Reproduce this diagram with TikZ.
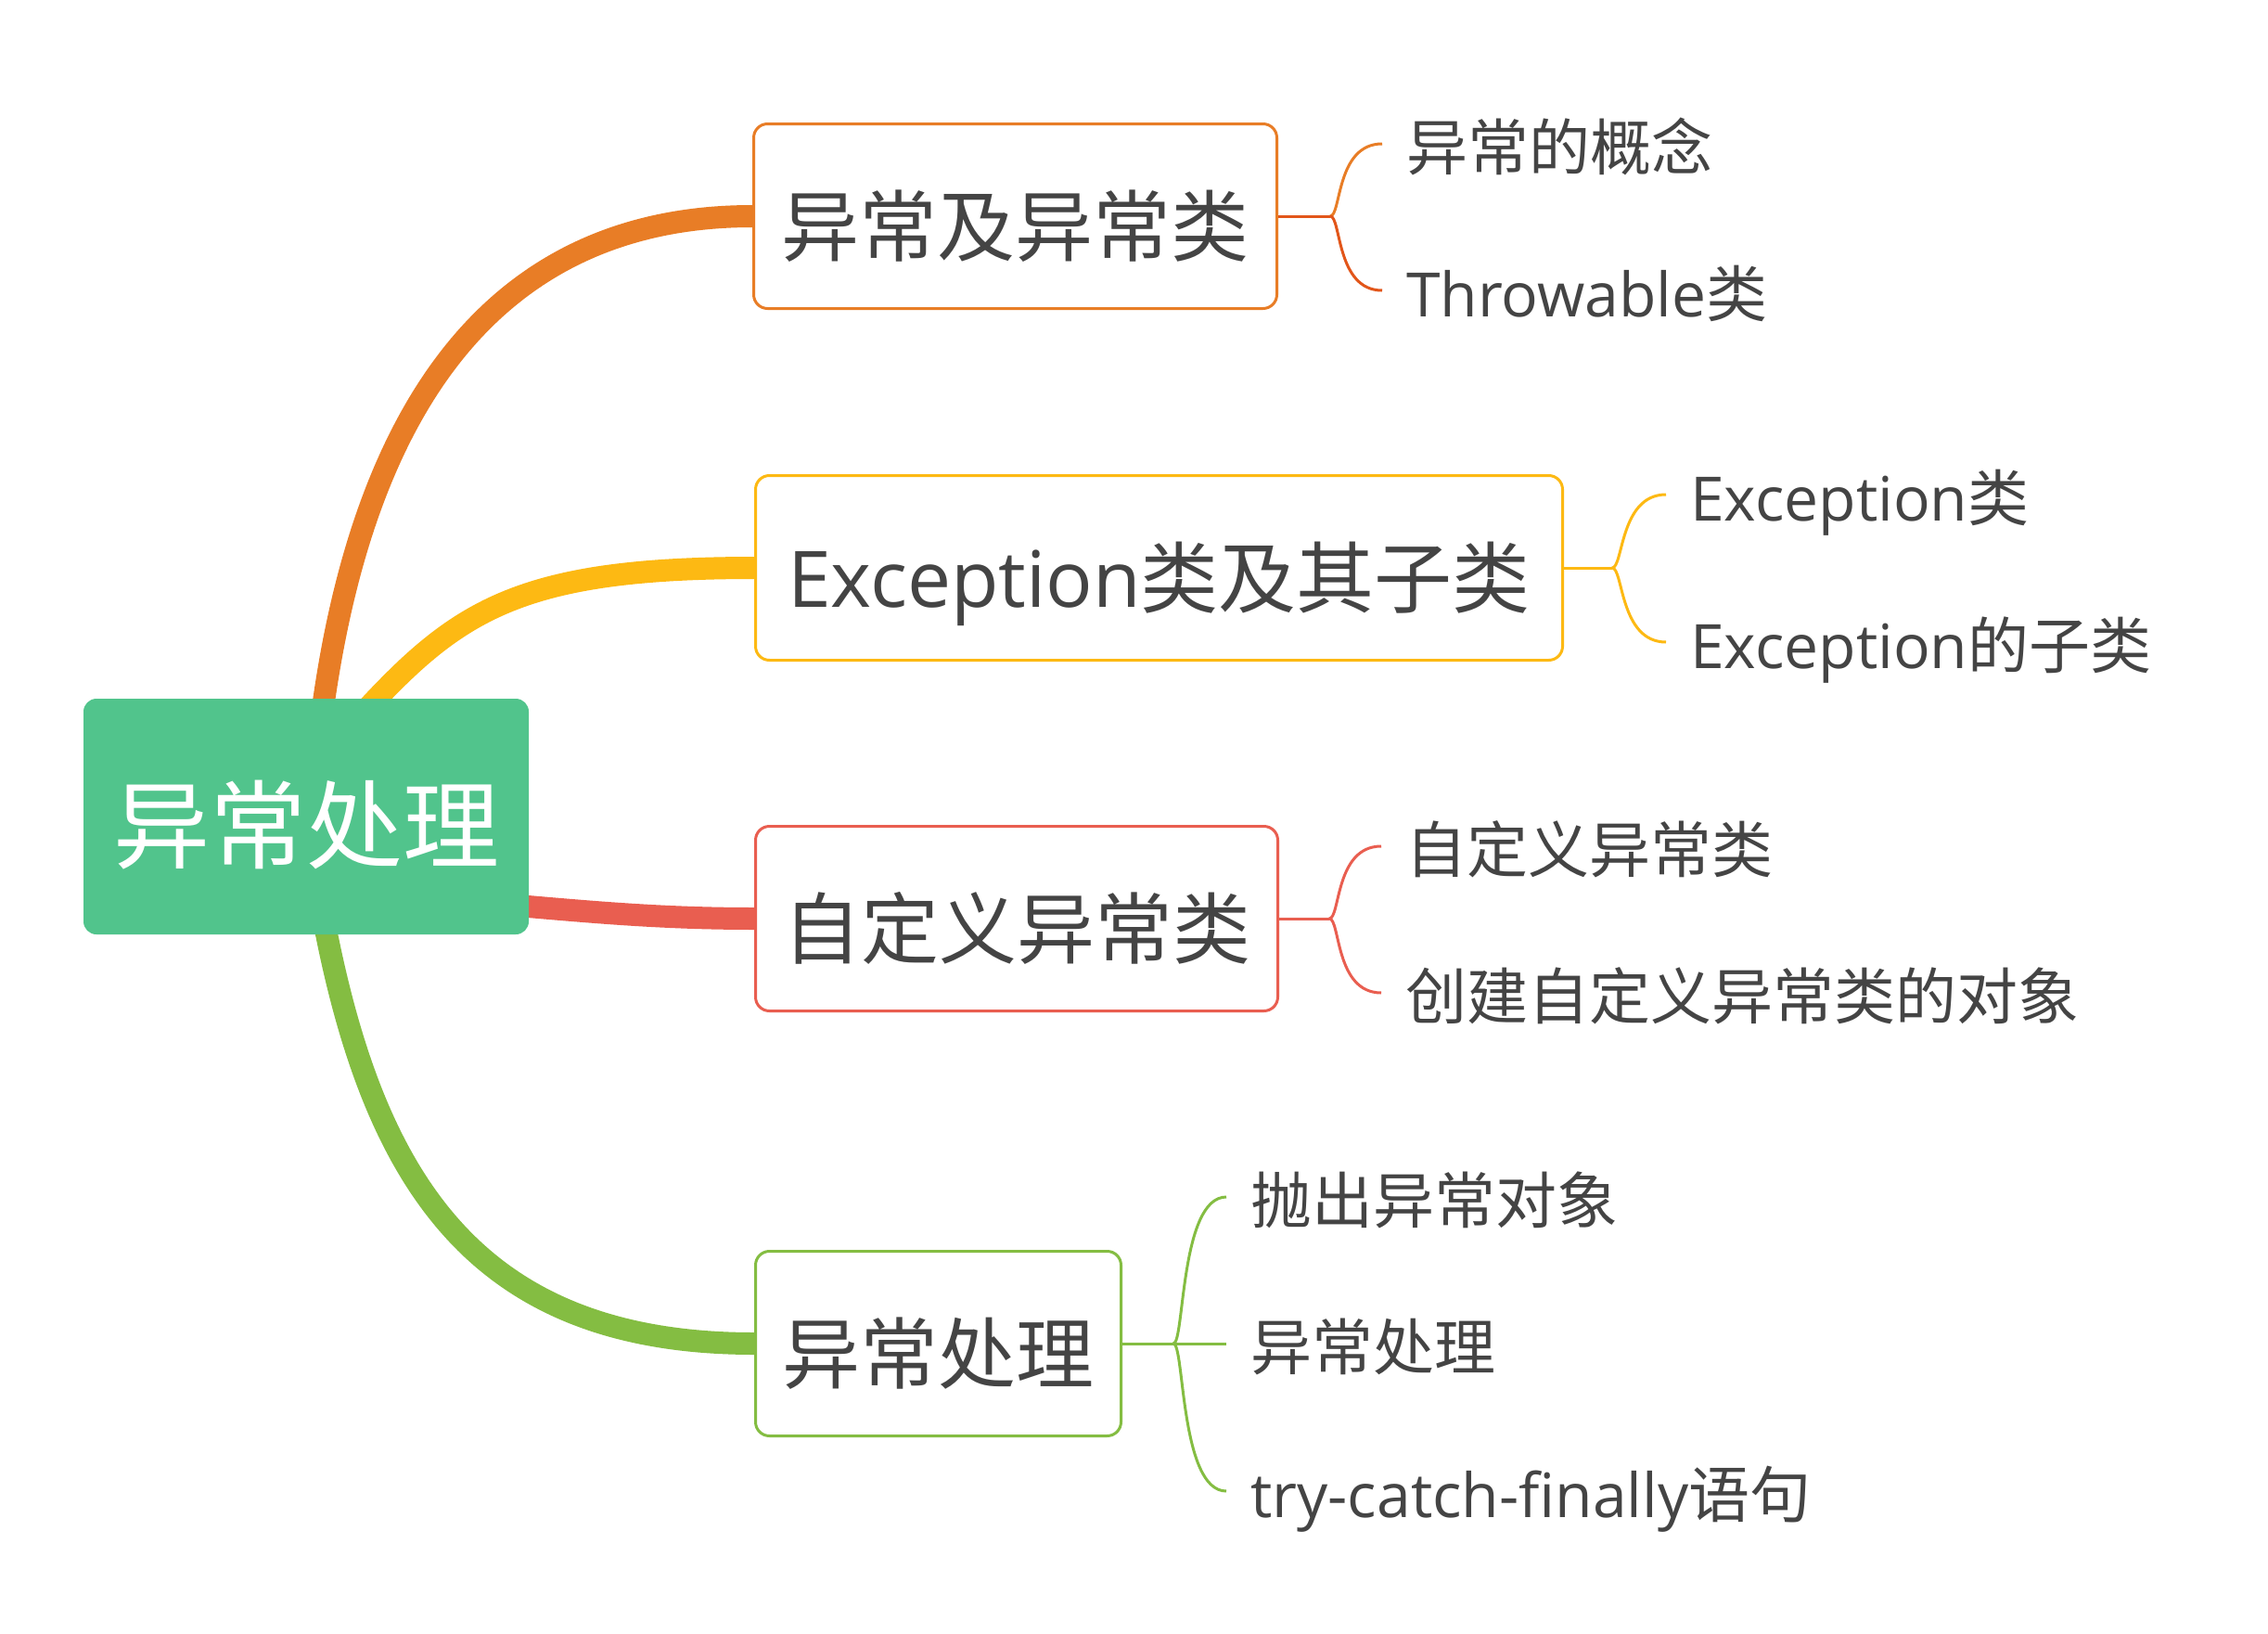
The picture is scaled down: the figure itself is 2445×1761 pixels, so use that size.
\documentclass[tikz,border=0pt]{standalone}
\usepackage{fontspec}
\setmainfont{Open Sans}
\newfontfamily\cjk{Noto Sans CJK SC}
\usetikzlibrary{calc,backgrounds}
\pgfdeclarelayer{paper}
\pgfsetlayers{paper,background,main}
\definecolor{cOrange}{HTML}{E87D26}
\definecolor{cOrangeD}{HTML}{E2561A}
\definecolor{cYellow}{HTML}{FDB913}
\definecolor{cRed}{HTML}{E95E50}
\definecolor{cGreen}{HTML}{84BD42}
\definecolor{cRoot}{HTML}{51C48C}
\definecolor{cText}{HTML}{444444}
\tikzset{
  rootbox/.style={fill=cRoot, rounded corners=14pt, text=white, inner sep=0pt,
    minimum width=480pt, minimum height=254pt,
    font=\fontsize{104}{110}\selectfont\cjk, text height=97pt, text depth=0pt},
  topic/.style={draw, line width=3pt, rounded corners=15pt, text=cText, inner sep=0pt,
    minimum height=199pt, font=\fontsize{84}{90}\selectfont, text height=85pt, text depth=0pt},
  leaf/.style={anchor=west, inner xsep=26pt, inner ysep=0pt, text=cText,
    font=\fontsize{66}{70}\selectfont, text height=57pt, text depth=0pt},
  branch/.style={line width=24pt},
  twig/.style={line width=3pt},
}
\begin{document}
\begin{tikzpicture}[x=1pt,y=-1pt]
\begin{pgfonlayer}{paper}
\fill[white] (0,0) rectangle (2445,1761);
\end{pgfonlayer}
\useasboundingbox (0,0) rectangle (2445,1761);

% root
\node[rootbox] (root) at (330,880) {异常处理};

% topics
\node[topic, draw=cOrange, minimum width=564pt] (t1) at (1094.5,233) {\cjk 异常及异常类};
\node[topic, draw=cYellow, minimum width=870pt] (t2) at (1249.5,612) {Exception{\cjk 类及其子类}};
\node[topic, draw=cRed, minimum width=563pt] (t3) at (1096,990) {\cjk 自定义异常类};
\node[topic, draw=cGreen, minimum width=394pt] (t4) at (1011.5,1448) {\cjk 异常处理};

% branches
\begin{pgfonlayer}{background}
\draw[branch, cOrange] ($(root.north west)+(258,12)$) .. controls (390,457) and (521,233) .. (t1.west);
\draw[branch, cYellow] ($(root.north west)+(305,12)$) .. controls (495,657) and (563,612) .. (t2.west);
\draw[branch, cRed] ($(root.south east)+(-10,-31)$) .. controls (650,984) and (720,990) .. (t3.west);
\draw[branch, cGreen] ($(root.south west)+(260,-12)$) .. controls (405,1280) and (518,1448) .. (t4.west);
\end{pgfonlayer}

% junctions
\coordinate (j1) at (1434,233);
\coordinate (j2) at (1738,612);
\coordinate (j3) at (1433,990);
\coordinate (j4) at (1265,1448);

% leaves
\node[leaf] (l11) at (1490,155) {\cjk 异常的概念};
\node[leaf] (l12) at (1490,313) {Throwable{\cjk 类}};
\node[leaf] (l21) at (1796,533) {Exception{\cjk 类}};
\node[leaf] (l22) at (1796,692) {Exception{\cjk 的子类}};
\node[leaf] (l31) at (1489,912) {\cjk 自定义异常类};
\node[leaf] (l32) at (1489,1070) {\cjk 创建自定义异常类的对象};
\node[leaf] (l41) at (1322,1290) {\cjk 抛出异常对象};
\node[leaf] (l42) at (1322,1448) {\cjk 异常处理};
\node[leaf] (l43) at (1322,1607) {try-catch-finally{\cjk 语句}};

% brackets
\draw[twig, cOrangeD] (t1.east) -- (j1);
\draw[twig, cOrange] (j1) .. controls +(12,0) and +(-50,0) .. (l11.west);
\draw[twig, cOrangeD] (j1) .. controls +(12,0) and +(-50,0) .. (l12.west);

\draw[twig, cYellow] (t2.east) -- (j2);
\draw[twig, cYellow] (j2) .. controls +(12,0) and +(-50,0) .. (l21.west);
\draw[twig, cYellow] (j2) .. controls +(12,0) and +(-50,0) .. (l22.west);

\draw[twig, cRed] (t3.east) -- (j3);
\draw[twig, cRed] (j3) .. controls +(12,0) and +(-50,0) .. (l31.west);
\draw[twig, cRed] (j3) .. controls +(12,0) and +(-50,0) .. (l32.west);

\draw[twig, cGreen] (t4.east) -- (j4);
\draw[twig, cGreen] (j4) .. controls +(12,0) and +(-50,0) .. (l41.west);
\draw[twig, cGreen] (j4) -- (l42.west);
\draw[twig, cGreen] (j4) .. controls +(12,0) and +(-50,0) .. (l43.west);
\end{tikzpicture}
\end{document}
